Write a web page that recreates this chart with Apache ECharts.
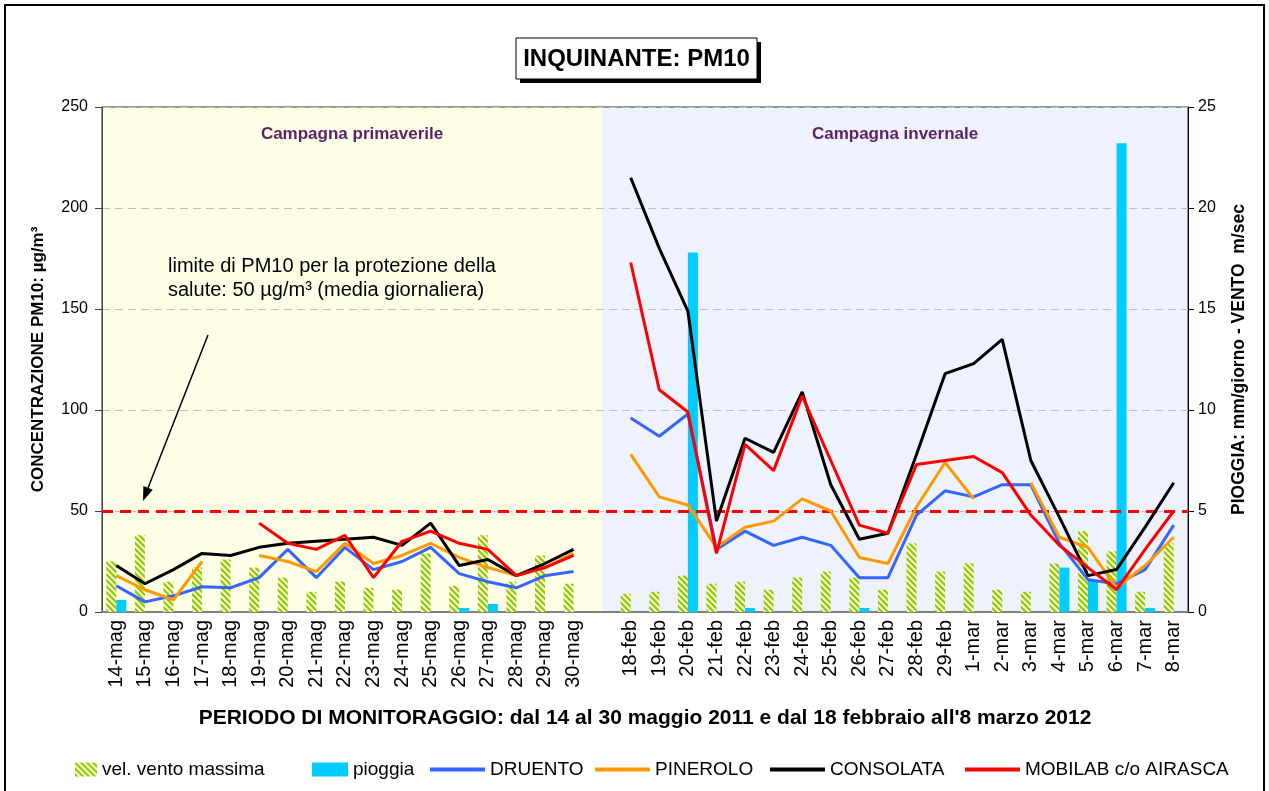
<!DOCTYPE html>
<html>
<head>
<meta charset="utf-8">
<title>INQUINANTE: PM10</title>
<script src="https://cdn.jsdelivr.net/npm/echarts@6/dist/echarts.min.js"></script>
<style>
  html, body { margin: 0; padding: 0; background: #fff; }
  #chart { width: 1269px; height: 791px; }
</style>
</head>
<body>
<div id="chart"></div>
<script>
// categorie: campagna primaverile, colonna vuota, campagna invernale
const giorni = ['14-mag', '15-mag', '16-mag', '17-mag', '18-mag', '19-mag', '20-mag', '21-mag', '22-mag',
  '23-mag', '24-mag', '25-mag', '26-mag', '27-mag', '28-mag', '29-mag', '30-mag', ' ',
  '18-feb', '19-feb', '20-feb', '21-feb', '22-feb', '23-feb', '24-feb', '25-feb', '26-feb', '27-feb',
  '28-feb', '29-feb', '1-mar', '2-mar', '3-mar', '4-mar', '5-mar', '6-mar', '7-mar', '8-mar'];

// asse destro (m/sec, mm/giorno)
const ventoMax = [2.5, 3.8, 1.5, 2.2, 2.6, 2.2, 1.7, 1.0, 1.5, 1.2, 1.1, 2.9, 1.3, 3.8, 1.5, 2.8, 1.4, null,
  0.9, 1.0, 1.8, 1.4, 1.5, 1.1, 1.7, 2.0, 1.7, 1.1, 3.4, 2.0, 2.4, 1.1, 1.0, 2.4, 4.0, 3.0, 1.0, 3.4];
const pioggia = [0.6, 0, 0, 0, 0, 0, 0, 0, 0, 0, 0, 0, 0.2, 0.4, 0, 0, 0, null,
  0, 0, 17.8, 0, 0.2, 0, 0, 0, 0.2, 0, 0, 0, 0, 0, 0, 2.2, 1.6, 23.2, 0.2, 0];

// asse sinistro (µg/m³)
const druento = [13, 5, 8, 12.5, 12, 17, 31, 17, 32, 21, 25, 32, 19, 15, 12, 18, 20, null,
  96, 87, 98, 31, 40, 33, 37, 33, 17, 17, 48, 60, 57, 63, 63, 34, 16, 14, 21, 43];
const pinerolo = [18, 11, 6, 25, null, 28, 25, 20, 34, 24, 28, 34, 27, 22, 18, 22, 29, null,
  78, 57, 53, 32, 42, 45, 56, 50, 27, 24, 52, 74, 56, null, 64, 37, 32, 12, 23, 37];
const consolata = [23, 14, 21, 29, 28, 32, 34, 35, 36, 37, 33, 44, 23, 26, 18, 24, 31, null,
  215, 180, 149, 45, 86, 79, 109, 63, 36, 39, 78, 118, 123, 135, 75, 47, 18, 21, 42, 64];
const mobilab = [null, null, null, null, null, 44, 34, 31, 38, 17, 35, 40, 34, 31, 18, 22, 28, null,
  173, 110, 99, 29, 83, 70, 107, 75, 43, 39, 73, 75, 77, 69, 48, 33, 22, 11, 31, 50];

const limitePM10 = 50;
const tickSinistra = [0, 50, 100, 150, 200, 250];
const tickDestra = [0, 5, 10, 15, 20, 25];

const FONT = '"Liberation Sans", Arial, sans-serif';

// tratteggio diagonale per il vento
function trama() {
  const c = document.createElement('canvas');
  c.width = 6; c.height = 6;
  const g = c.getContext('2d');
  g.fillStyle = '#ffffff';
  g.fillRect(0, 0, 6, 6);
  g.strokeStyle = '#99CC00';
  g.lineWidth = 2.5;
  g.beginPath();
  g.moveTo(-3, -3); g.lineTo(9, 9);
  g.moveTo(-6, 0); g.lineTo(6, 12);
  g.moveTo(0, -6); g.lineTo(12, 6);
  g.stroke();
  return c;
}

const chart = echarts.init(document.getElementById('chart'));

const linea = (nome, dati, colore) => ({
  name: nome,
  type: 'line',
  data: dati,
  yAxisIndex: 0,
  symbol: 'none',
  connectNulls: false,
  lineStyle: { color: colore, width: 3 },
  itemStyle: { color: colore },
  z: 5
});

const legendaVoce = (nome, x, w, h) => ({
  data: [nome],
  left: x,
  top: 755,
  itemWidth: w,
  itemHeight: h,
  itemGap: 4,
  icon: 'rect',
  textStyle: { fontFamily: FONT, fontSize: 19, color: '#000' }
});

const option = {
  animation: false,
  textStyle: { fontFamily: FONT },
  grid: {
    left: 102, right: 81, top: 107, bottom: 179,
    show: true, borderColor: '#333', borderWidth: 1, backgroundColor: 'transparent'
  },
  legend: [
    legendaVoce('vel. vento massima', 70, 22, 14),
    legendaVoce('pioggia', 307, 36, 14),
    legendaVoce('DRUENTO', 425, 55, 4),
    legendaVoce('PINEROLO', 590, 55, 4),
    legendaVoce('CONSOLATA', 765, 55, 4),
    legendaVoce('MOBILAB c/o AIRASCA', 960, 55, 4)
  ],
  xAxis: {
    type: 'category',
    data: giorni,
    name: "PERIODO DI MONITORAGGIO: dal 14 al 30 maggio 2011 e dal 18 febbraio all'8 marzo 2012",
    nameLocation: 'middle',
    nameGap: 96,
    nameTextStyle: { fontSize: 21, fontWeight: 'bold', color: '#000' },
    axisLine: { lineStyle: { color: '#808080', width: 2 } },
    axisTick: { show: false },
    axisLabel: { interval: 0, rotate: 90, fontSize: 20, color: '#000', margin: 8 }
  },
  yAxis: [
    {
      type: 'value', min: 0, max: 250, interval: 50,
      name: 'CONCENTRAZIONE PM10: µg/m³',
      nameLocation: 'middle', nameRotate: 90, nameGap: 55,
      nameTextStyle: { fontSize: 17, fontWeight: 'bold', color: '#000' },
      axisLine: { show: true, lineStyle: { color: '#404040', width: 1 } },
      axisTick: { show: true, length: 7, lineStyle: { color: '#404040' } },
      axisLabel: { fontSize: 16, color: '#000', margin: 14,
        formatter: v => tickSinistra.includes(v) ? String(v) : '' },
      splitLine: { show: true, lineStyle: { color: '#BFBFBF', width: 1, type: [8, 5] } }
    },
    {
      type: 'value', min: 0, max: 25, interval: 5,
      name: 'PIOGGIA: mm/giorno - VENTO  m/sec',
      nameLocation: 'middle', nameRotate: 90, nameGap: 42,
      nameTextStyle: { fontSize: 17.5, fontWeight: 'bold', color: '#000' },
      axisLine: { show: true, lineStyle: { color: '#000', width: 1 } },
      axisTick: { show: true, length: 6, lineStyle: { color: '#000' } },
      axisLabel: { fontSize: 16, color: '#000', margin: 10,
        formatter: v => tickDestra.includes(v) ? String(v) : '' },
      splitLine: { show: false }
    }
  ],
  series: [
    {
      name: 'vel. vento massima', type: 'bar', yAxisIndex: 1, data: ventoMax,
      barWidth: 10, barGap: '0%',
      itemStyle: { color: { image: trama(), repeat: 'repeat' } },
      z: 2
    },
    {
      name: 'pioggia', type: 'bar', yAxisIndex: 1, data: pioggia,
      barWidth: 10, barGap: '0%',
      itemStyle: { color: '#00CCFF' },
      z: 2
    },
    Object.assign(linea('DRUENTO', druento, '#3366FF'), {
      markLine: {
        silent: true, symbol: 'none', label: { show: false },
        lineStyle: { color: '#FF0000', width: 3, type: [11, 7] },
        data: [{ yAxis: limitePM10 }]
      }
    }),
    linea('PINEROLO', pinerolo, '#FF9900'),
    linea('CONSOLATA', consolata, '#000000'),
    linea('MOBILAB c/o AIRASCA', mobilab, '#FF0000')
  ]
};

chart.setOption(option);

// sfondi delle due campagne, titolo e annotazioni
const x0 = 102, x1 = 1269 - 81, y0 = 107, y1 = 612;
const xSep = chart.convertToPixel({ xAxisIndex: 0 }, ' ');
const xPrim = (x0 + xSep) / 2;
const xInv = (xSep + x1) / 2;

chart.setOption({
  graphic: [
    { type: 'rect', z: -1, silent: true, shape: { x: x0, y: y0, width: xSep - x0, height: y1 - y0 },
      style: { fill: '#FFFFE8' } },
    { type: 'rect', z: -1, silent: true, shape: { x: xSep, y: y0, width: x1 - xSep, height: y1 - y0 },
      style: { fill: '#EEF2FC' } },
    { type: 'text', silent: true, x: xPrim, y: 134, style: { text: 'Campagna primaverile',
        font: 'bold 17px ' + FONT, fill: '#5E2163', align: 'center', verticalAlign: 'middle' } },
    { type: 'text', silent: true, x: xInv, y: 134, style: { text: 'Campagna invernale',
        font: 'bold 17px ' + FONT, fill: '#5E2163', align: 'center', verticalAlign: 'middle' } },
    { type: 'text', silent: true, left: 168, top: 254, style: {
        text: 'limite di PM10 per la protezione della\nsalute: 50 µg/m³ (media giornaliera)',
        font: '20px ' + FONT, fill: '#000', lineHeight: 24 } },
    { type: 'line', silent: true, shape: { x1: 208, y1: 335, x2: 148, y2: 488 },
      style: { stroke: '#000', lineWidth: 1.5 } },
    { type: 'polygon', silent: true, shape: { points: [[143, 501], [152.8, 489.8], [143.4, 486.1]] },
      style: { fill: '#000' } },
    // titolo con ombra
    { type: 'rect', silent: true, shape: { x: 520, y: 42, width: 241, height: 41 }, style: { fill: '#000' } },
    { type: 'rect', silent: true, shape: { x: 516, y: 38, width: 241, height: 41 },
      style: { fill: '#fff', stroke: '#000', lineWidth: 1 } },
    { type: 'text', silent: true, x: 636.5, y: 59, style: { text: 'INQUINANTE: PM10',
        font: 'bold 24px ' + FONT, fill: '#000', align: 'center', verticalAlign: 'middle' } },
    // cornice esterna
    { type: 'rect', silent: true, shape: { x: 5, y: 5, width: 1259, height: 800 },
      style: { fill: 'none', stroke: '#000', lineWidth: 2 } }
  ]
});
</script>
</body>
</html>
